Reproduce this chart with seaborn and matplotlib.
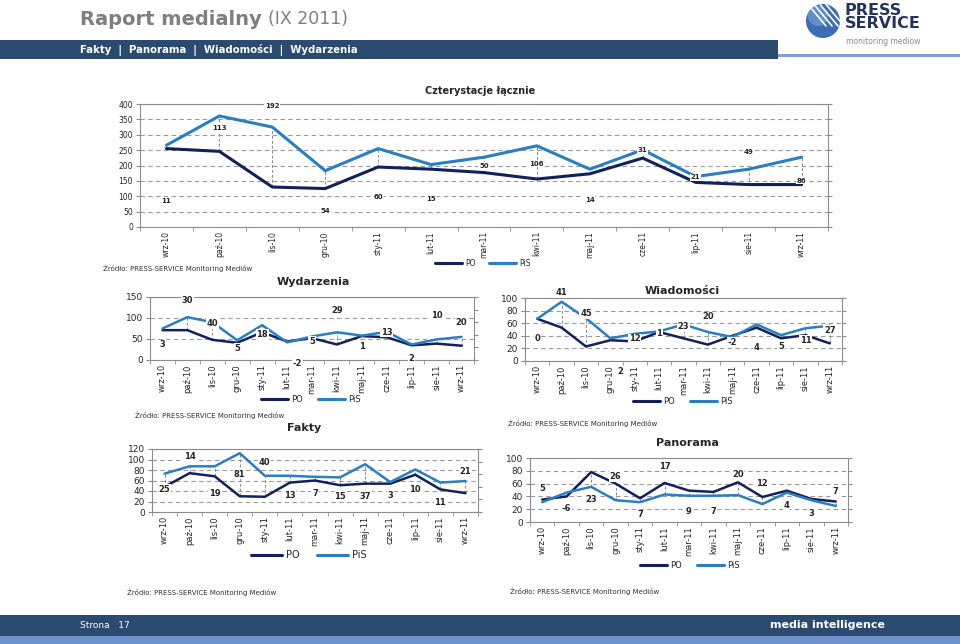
import numpy as np
import pandas as pd
import matplotlib
matplotlib.use('Agg')
import matplotlib.pyplot as plt
from matplotlib.patches import Rectangle, Circle
from matplotlib.lines import Line2D
import seaborn as sns

sns.set_style('white')
plt.rcParams['font.family'] = ['DejaVu Sans']

months = ['wrz-10', 'paź-10', 'lis-10', 'gru-10', 'sty-11', 'lut-11', 'mar-11',
          'kwi-11', 'maj-11', 'cze-11', 'lip-11', 'sie-11', 'wrz-11']

# Cztery stacje łącznie
all_po = [255, 246, 130, 125, 195, 188, 177, 156, 173, 224, 145, 138, 138]
all_pis = [266, 361, 325, 183, 255, 203, 227, 264, 188, 251, 164, 188, 227]
all_diff = ['11', '113', '192', '54', '60', '15', '50', '106', '14', '31', '21', '49', '86']
all_lab_y = [83, 322, 392, 53, 99, 92, 199, 206, 89, 249, 161, 244, 151]

# Wydarzenia
wyd_po = [71, 71, 48, 41, 66, 44, 52, 37, 57, 54, 35, 39, 34]
wyd_pis = [75, 102, 90, 47, 83, 42, 56, 66, 58, 67, 37, 49, 55]
wyd_diff = ['3', '30', '40', '5', '18', '-2', '5', '29', '1', '13', '2', '10', '20']
wyd_lab_y = [36, 142, 87, 28, 61, -8, 44, 117, 32, 66, 4, 105, 89]

# Wiadomości
wiad_po = [67, 53, 23, 33, 31, 46, 36, 26, 40, 53, 36, 41, 28]
wiad_pis = [67, 94, 68, 36, 43, 47, 58, 46, 38, 58, 41, 52, 56]
wiad_diff = ['0', '41', '45', '2', '12', '1', '23', '20', '-2', '4', '5', '11', '27']
wiad_lab_y = [36, 109, 75, -16, 35, 44, 54, 70, 30, 21, 23, 33, 49]

# Fakty
fakty_po = [48, 74, 68, 30, 29, 56, 60, 51, 54, 54, 71, 43, 36]
fakty_pis = [73, 87, 87, 112, 69, 69, 67, 66, 91, 57, 81, 56, 59]
fakty_diff = ['25', '14', '19', '81', '40', '13', '7', '15', '37', '3', '10', '11', '21']
fakty_lab_y = [43, 105, 36, 72, 95, 32, 36, 30, 30, 32, 43, 19, 78]

# Panorama
pan_po = [35, 40, 78, 60, 37, 61, 49, 47, 62, 39, 49, 36, 32]
pan_pis = [31, 46, 55, 34, 31, 43, 41, 41, 42, 28, 46, 34, 25]
pan_diff = ['5', '-6', '23', '26', '7', '17', '9', '7', '20', '12', '4', '3', '7']
pan_lab_y = [53, 21, 35, 71, 11, 87, 17, 17, 74, 60, 26, 14, 47]

C_PO = '#13215a'
C_PIS = '#2b7ec1'
W, H = 960, 644
SRC = 'Źródło: PRESS-SERVICE Monitoring Mediów'


def px_box(l, t, r, b):
    return [l / W, 1 - b / H, (r - l) / W, (b - t) / H]


def draw_panel(ax, po, pis, diffs, lab_y, ymax, ystep, lw, lab_fs, tick_fs, ytick_fs, mirror):
    df = pd.DataFrame({'pos': list(range(len(months))) * 2,
                       'value': po + pis,
                       'party': ['PO'] * len(po) + ['PiS'] * len(pis)})
    sns.lineplot(data=df, x='pos', y='value', hue='party',
                 palette={'PO': C_PO, 'PiS': C_PIS}, linewidth=lw,
                 legend=False, ax=ax)
    idx = np.arange(len(months))
    ax.vlines(idx, np.minimum(po, pis), np.maximum(po, pis), colors='#8c8c8c',
              linestyles=(0, (3, 2)), linewidth=0.7, zorder=1.5)
    for i, (t, y) in enumerate(zip(diffs, lab_y)):
        # labels sitting below the axis are nudged right of the month label
        dx = 0.42 if y < 0 else 0
        ax.text(i + dx, y, t, ha='center', va='center', fontsize=lab_fs, fontweight='bold',
                bbox=dict(fc='white', ec='none', pad=0.5), zorder=6, clip_on=False)
    ax.set_xlim(-0.5, len(months) - 0.5)
    ax.set_ylim(0, ymax)
    ax.set_yticks(np.arange(0, ymax + 1, ystep))
    ax.set_xticks(idx)
    ax.set_xticklabels(months, rotation=90, fontsize=tick_fs)
    ax.set_xticks(np.arange(-0.5, len(months), 1), minor=True)
    ax.tick_params(axis='x', which='major', length=0, pad=3)
    ax.tick_params(axis='x', which='minor', length=3, color='#8c8c8c', bottom=True)
    ax.tick_params(axis='y', left=True, length=3, color='#8c8c8c', labelsize=ytick_fs,
                   pad=2, right=mirror)
    ax.grid(axis='y', linestyle=(0, (4, 3)), color='#9a9a9a', linewidth=0.8)
    ax.grid(axis='x', visible=False)
    ax.set_axisbelow(True)
    for s in ax.spines.values():
        s.set_visible(True)
        s.set_color('#8c8c8c')
        s.set_linewidth(0.8)
    ax.set_xlabel('')
    ax.set_ylabel('')
    if not mirror:
        tw = ax.twinx()
        tw.set_ylim(0, 1)
        tw.set_yticks([0, 0.2, 0.4, 0.6, 0.8, 1.0])
        tw.tick_params(labelright=False, length=3, color='#8c8c8c')
        for s in tw.spines.values():
            s.set_visible(False)
        tw.grid(False)


def add_legend(x, y, fs, hl):
    handles = [Line2D([], [], color=C_PO, lw=2.2), Line2D([], [], color=C_PIS, lw=2.2)]
    fig.legend(handles, ['PO', 'PiS'], loc='center', bbox_to_anchor=(x / W, 1 - y / H),
               ncol=2, frameon=False, fontsize=fs, handlelength=hl,
               columnspacing=1.8, handletextpad=0.4)


fig = plt.figure(figsize=(9.6, 6.44), dpi=100)

# slide background: header, footer, logo
bg = fig.add_axes([0, 0, 1, 1], zorder=-5)
bg.set_xlim(0, W)
bg.set_ylim(H, 0)
bg.axis('off')
bg.add_patch(Rectangle((0, 40), 778, 19, color='#2b4a6f', lw=0))
bg.add_patch(Rectangle((778, 54), 182, 3, color='#7aa0d8', lw=0))
bg.add_patch(Rectangle((0, 615), W, 21, color='#2b4a6f', lw=0))
bg.add_patch(Rectangle((0, 636), W, 8, color='#6e93cc', lw=0))
bg.text(80, 19, 'Raport medialny', fontsize=14, fontweight='bold', color='#7f7f7f',
        ha='left', va='center')
bg.text(268, 19, '(IX 2011)', fontsize=12.5, color='#7f7f7f', ha='left', va='center')
bg.text(80, 49.5, 'Fakty  |  Panorama  |  Wiadomości  |  Wydarzenia', fontsize=7.3,
        fontweight='bold', color='white', ha='left', va='center')
bg.text(80, 625, 'Strona   17', fontsize=6.5, color='white', ha='left', va='center')
bg.text(885, 625, 'media intelligence', fontsize=8, fontweight='bold', color='white',
        ha='right', va='center')
logo = Circle((823, 21), 17, color='#3d6db3', lw=0)
bg.add_patch(logo)
bg.add_patch(Circle((818, 16), 10, color='#7fa5dc', lw=0, alpha=0.6))
for k in range(4):
    ln = Line2D([806 + k * 6, 826 + k * 6], [2, 26], color='white', lw=1.2)
    bg.add_line(ln)
    ln.set_clip_path(logo)
bg.text(845, 17, 'PRESS\nSERVICE', fontsize=11.5, fontweight='bold', color='#26345c',
        ha='left', va='center', linespacing=0.9)
bg.text(846, 41, 'monitoring mediow', fontsize=5.5, color='#8a8a8a', ha='left', va='center')

# main chart
ax0 = fig.add_axes(px_box(140, 104, 828, 227))
draw_panel(ax0, all_po, all_pis, all_diff, all_lab_y, 400, 50, 2.2, 5, 5.5, 5.5, True)
bg.text(480, 91, 'Czterystacje łącznie', fontsize=7, fontweight='bold', ha='center', va='center')
add_legend(483, 263, 5.5, 3.5)
bg.text(103, 268, SRC, fontsize=5, color='#333333', ha='left', va='center')

# Wydarzenia
ax1 = fig.add_axes(px_box(150, 297, 474, 360))
draw_panel(ax1, wyd_po, wyd_pis, wyd_diff, wyd_lab_y, 150, 50, 1.8, 6, 6, 6.5, False)
bg.text(313, 282, 'Wydarzenia', fontsize=8, fontweight='bold', ha='center', va='center')
add_legend(311, 399, 6, 3.2)
bg.text(135, 415, SRC, fontsize=5, color='#333333', ha='left', va='center')

# Wiadomości
ax2 = fig.add_axes(px_box(525, 298, 842, 361))
draw_panel(ax2, wiad_po, wiad_pis, wiad_diff, wiad_lab_y, 100, 20, 1.8, 6, 6, 6.5, False)
bg.text(682, 291, 'Wiadomości', fontsize=8, fontweight='bold', ha='center', va='center')
add_legend(683, 401, 6, 3.2)
bg.text(508, 423, SRC, fontsize=5, color='#333333', ha='left', va='center')

# Fakty
ax3 = fig.add_axes(px_box(152, 449, 478, 512))
draw_panel(ax3, fakty_po, fakty_pis, fakty_diff, fakty_lab_y, 120, 20, 1.8, 6, 6, 6.5, False)
bg.text(304, 428, 'Fakty', fontsize=8, fontweight='bold', ha='center', va='center')
add_legend(309, 555, 7, 3.2)
bg.text(127, 592, SRC, fontsize=5, color='#333333', ha='left', va='center')

# Panorama
ax4 = fig.add_axes(px_box(530, 458, 848, 522))
draw_panel(ax4, pan_po, pan_pis, pan_diff, pan_lab_y, 100, 20, 1.8, 6, 6, 6.5, False)
bg.text(687, 443, 'Panorama', fontsize=8, fontweight='bold', ha='center', va='center')
add_legend(690, 565, 6, 3.2)
bg.text(510, 591, SRC, fontsize=5, color='#333333', ha='left', va='center')

fig.savefig('out.png', dpi=100)
